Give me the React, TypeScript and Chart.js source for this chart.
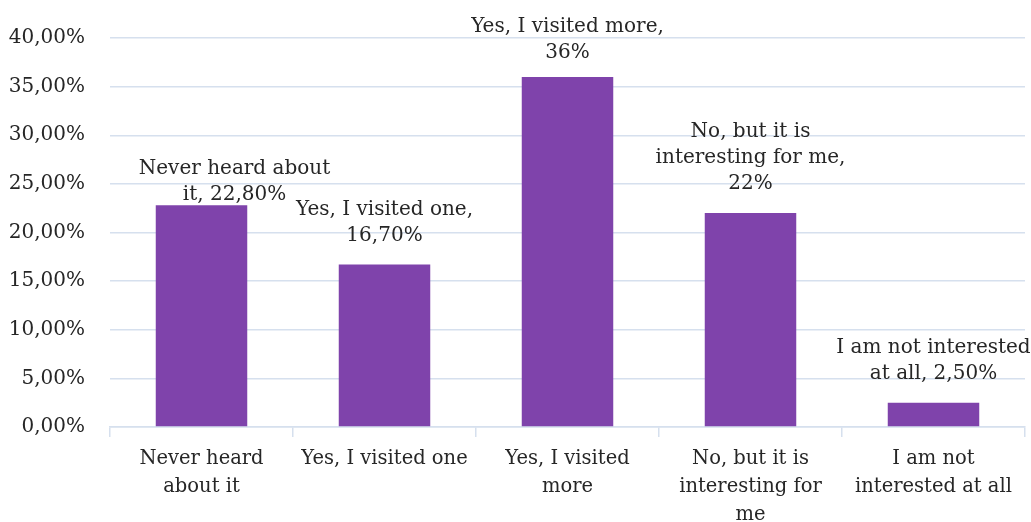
import React, { useEffect, useRef } from "react";
import { Chart, registerables } from "chart.js";

Chart.register(...registerables);

const categories: string[][] = [
  ["Never heard", "about it"],
  ["Yes, I visited one"],
  ["Yes, I visited", "more"],
  ["No, but it is", "interesting for", "me"],
  ["I am not", "interested at all"],
];
const values: number[] = [22.8, 16.7, 36, 22, 2.5];
const dataLabelLines: string[][] = [
  ["Never heard about", "it, 22,80%"],
  ["Yes, I visited one,", "16,70%"],
  ["Yes, I visited more,", "36%"],
  ["No, but it is", "interesting for me,", "22%"],
  ["I am not interested", "at all, 2,50%"],
];
const yMin = 0;
const yMax = 40;
const yStep = 5;

const FONT = "'DejaVu Serif', serif";
const TEXT = "#262626";
const GRID = "#D6E0EE";
const BAR = "#7F43AB";

const dataLabelPlugin = {
  id: "dataLabels",
  afterDatasetsDraw(chart: any, _args: any, opts: any) {
    const ctx = chart.ctx;
    const meta = chart.getDatasetMeta(0);
    ctx.save();
    ctx.font = `${opts.size}px ${FONT}`;
    ctx.fillStyle = TEXT;
    ctx.textAlign = "center";
    ctx.textBaseline = "middle";
    meta.data.forEach((bar: any, i: number) => {
      const lines = opts.lines[i] || [];
      const dx = (opts.dx && opts.dx[i]) || 0;
      const dy = (opts.dy && opts.dy[i]) || 0;
      const lastY = bar.y - opts.gap + dy;
      lines.forEach((t: string, j: number) => {
        const y = lastY - (lines.length - 1 - j) * opts.lineHeight;
        ctx.fillText(t, bar.x + dx, y);
      });
    });
    ctx.restore();
  },
};

export default function App() {
  const ref = useRef<HTMLCanvasElement | null>(null);
  useEffect(() => {
    if (!ref.current) return;
    const chart = new Chart(ref.current, {
      type: "bar",
      data: {
        labels: categories,
        datasets: [
          {
            data: values,
            backgroundColor: BAR,
            categoryPercentage: 1,
            barPercentage: 0.5,
          },
        ],
      },
      plugins: [dataLabelPlugin],
      options: {
        responsive: false,
        animation: false,
        devicePixelRatio: 1,
        layout: { padding: { top: 38, right: 6, left: 0, bottom: 0 } },
        plugins: {
          legend: { display: false },
          tooltip: { enabled: false },
          dataLabels: {
            lines: dataLabelLines,
            size: 20,
            lineHeight: 26,
            gap: 29,
            dx: [33, 0, 0, 0, 0],
            dy: [19, 0, 5, 0, 0],
          },
        } as any,
        scales: {
          x: {
            grid: {
              offset: true,
              drawOnChartArea: false,
              drawTicks: true,
              tickLength: 10,
              color: GRID,
              lineWidth: 1.5,
            },
            border: { display: true, color: GRID, width: 1.5 },
            ticks: {
              color: TEXT,
              font: { family: FONT, size: 19.5, lineHeight: 1.43 },
              padding: 8,
              maxRotation: 0,
              autoSkip: false,
            },
            afterFit(scale: any) {
              scale.height = 95;
            },
          },
          y: {
            min: yMin,
            max: yMax,
            grid: { drawTicks: false, color: GRID, lineWidth: 1.5 },
            border: { display: false },
            ticks: {
              stepSize: yStep,
              color: TEXT,
              padding: 25,
              font: { family: FONT, size: 20 },
              callback: (v: any) => Number(v).toFixed(2).replace(".", ",") + "%",
            },
            afterFit(scale: any) {
              scale.width = 110;
            },
          },
        },
      },
    });
    return () => chart.destroy();
  }, []);
  return (
    <div style={{ position: "fixed", left: 0, top: 0, width: 1031, height: 522, background: "#fff" }}>
      <canvas ref={ref} width={1031} height={522} style={{ width: 1031, height: 522 }} />
    </div>
  );
}
